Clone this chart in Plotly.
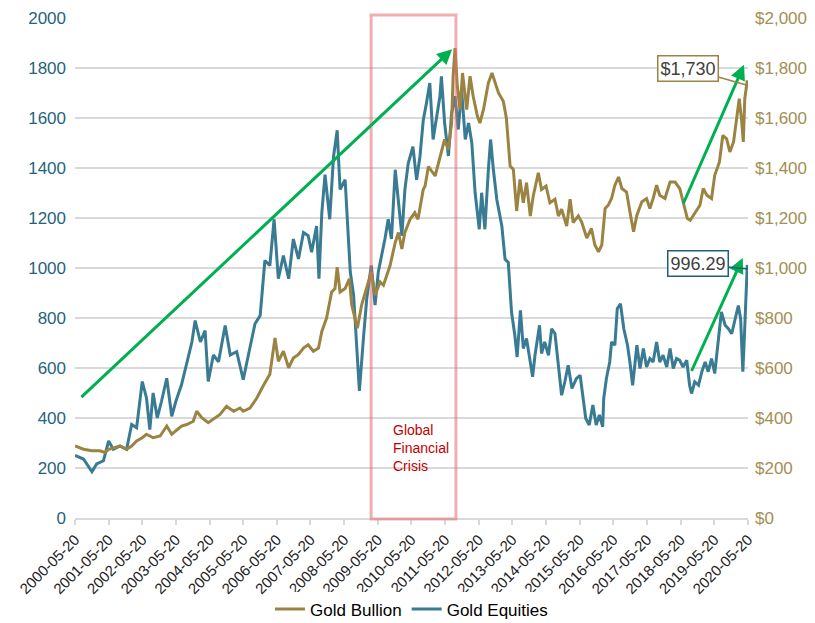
import plotly.graph_objects as go

# Gold Equities (left axis)
eq_dates = [
    "2000-05-20", "2000-08-20", "2000-11-20", "2001-01-10", "2001-03-25", "2001-05-20", "2001-07-10",
    "2001-09-20", "2001-12-01", "2002-01-25", "2002-03-20", "2002-05-20", "2002-07-05", "2002-08-10",
    "2002-09-15", "2002-10-30", "2002-12-15", "2003-02-10", "2003-04-05", "2003-05-20", "2003-07-20",
    "2003-09-15", "2003-11-10", "2003-12-15", "2004-02-10", "2004-04-01", "2004-05-05", "2004-06-30",
    "2004-08-25", "2004-11-05", "2004-12-30", "2005-03-10", "2005-05-20", "2005-07-15", "2005-09-25",
    "2005-11-20", "2006-01-10", "2006-03-05", "2006-04-20", "2006-06-05", "2006-07-30", "2006-09-25",
    "2006-11-15", "2007-01-10", "2007-03-05", "2007-04-25", "2007-06-01", "2007-07-25", "2007-08-20",
    "2007-09-20", "2007-10-25", "2007-12-15", "2008-01-25", "2008-03-05", "2008-04-05", "2008-05-30",
    "2008-06-25", "2008-07-25", "2008-08-30", "2008-10-05", "2008-11-01", "2008-12-15", "2009-01-20",
    "2009-03-10", "2009-04-20", "2009-05-25", "2009-07-01", "2009-08-05", "2009-09-10", "2009-10-15",
    "2009-11-25", "2009-12-30", "2010-02-05", "2010-03-10", "2010-04-15", "2010-06-05", "2010-07-15",
    "2010-08-20", "2010-09-25", "2010-10-30", "2010-12-05", "2011-01-10", "2011-02-20", "2011-03-25",
    "2011-04-10", "2011-05-15", "2011-06-25", "2011-07-30", "2011-09-05", "2011-10-10", "2011-11-15",
    "2011-12-25", "2012-01-30", "2012-03-05", "2012-04-10", "2012-05-25", "2012-06-20", "2012-07-25",
    "2012-09-01", "2012-09-25", "2012-10-25", "2012-12-01", "2013-01-25", "2013-03-01", "2013-04-05",
    "2013-05-10", "2013-06-15", "2013-07-10", "2013-08-15", "2013-09-15", "2013-10-20", "2013-11-30",
    "2013-12-25", "2014-01-20", "2014-03-10", "2014-04-01", "2014-05-05", "2014-06-15", "2014-07-20",
    "2014-08-25", "2014-09-30", "2014-11-05", "2014-12-10", "2015-01-15", "2015-02-25", "2015-04-15",
    "2015-05-25", "2015-06-20", "2015-07-25", "2015-09-01", "2015-10-10", "2015-11-15", "2015-12-20",
    "2016-01-25", "2016-02-05", "2016-03-05", "2016-04-10", "2016-04-30", "2016-06-05", "2016-07-01",
    "2016-08-05", "2016-09-10", "2016-10-20", "2016-11-15", "2016-12-15", "2017-01-30", "2017-03-05",
    "2017-04-10", "2017-05-15", "2017-06-20", "2017-07-25", "2017-09-01", "2017-10-05", "2017-11-10",
    "2017-12-20", "2018-01-25", "2018-03-01", "2018-04-05", "2018-05-10", "2018-06-15", "2018-07-25",
    "2018-08-25", "2018-09-15", "2018-10-20", "2018-11-30", "2019-01-05", "2019-02-10", "2019-03-15",
    "2019-04-20", "2019-05-25", "2019-07-01", "2019-08-05", "2019-09-15", "2019-10-20", "2019-11-25",
    "2019-12-30", "2020-02-05", "2020-03-01", "2020-03-25", "2020-04-10", "2020-04-30", "2020-05-12",
    "2020-05-20",
]
eq_values = [
    250, 236, 185, 216, 229, 308, 275,
    288, 275, 374, 361, 546, 480, 354,
    500, 400, 467, 559, 407, 467, 533,
    625, 704, 790, 704, 750, 546, 652,
    625, 770, 652, 665, 553, 652, 777,
    810, 1030, 1010, 1195, 957, 1050, 957,
    1116, 1036, 1142, 1129, 1063, 1168, 957,
    1221, 1373, 1195, 1445, 1551, 1314, 1353,
    1182, 984, 891, 693, 508, 720, 878,
    1010, 852, 984, 1050, 1116, 1195, 1116,
    1393, 1274, 1129, 1314, 1419, 1485, 1353,
    1445, 1591, 1660, 1740, 1514, 1620, 1687,
    1767, 1580, 1448, 1620, 1687, 1554, 1714,
    1514, 1580, 1501, 1301, 1155, 1301, 1155,
    1394, 1514, 1394, 1275, 1168, 1035, 1022,
    824, 731, 644, 831, 678, 718, 611,
    565, 651, 771, 658, 704, 651, 757,
    737, 624, 491, 545, 611, 518, 558,
    571, 505, 398, 372, 452, 372, 412,
    365, 478, 558, 624, 704, 691, 837,
    857, 757, 691, 624, 531, 691, 598,
    678, 604, 638, 624, 704, 624, 651,
    604, 678, 598, 638, 631, 604, 631,
    531, 498, 545, 531, 585, 624, 585,
    638, 578, 718, 824, 771, 757, 737,
    797, 850, 797, 585, 718, 930, 1012,
    996.29,
]

# Gold Bullion (right axis)
gb_dates = [
    "2000-05-20", "2000-08-20", "2000-11-20", "2001-02-15", "2001-04-10", "2001-05-20", "2001-07-30",
    "2001-09-20", "2001-12-01", "2002-01-25", "2002-03-20", "2002-05-20", "2002-07-05", "2002-09-15",
    "2002-11-30", "2003-02-10", "2003-04-05", "2003-05-20", "2003-07-20", "2003-09-15", "2003-11-25",
    "2004-01-01", "2004-02-25", "2004-05-05", "2004-06-30", "2004-09-10", "2004-11-20", "2005-02-05",
    "2005-04-15", "2005-05-20", "2005-08-01", "2005-10-15", "2005-12-25", "2006-03-05", "2006-04-30",
    "2006-06-05", "2006-07-30", "2006-09-25", "2006-11-15", "2007-01-10", "2007-03-05", "2007-04-25",
    "2007-06-20", "2007-08-15", "2007-09-20", "2007-11-10", "2008-01-05", "2008-02-10", "2008-03-05",
    "2008-04-05", "2008-05-30", "2008-07-15", "2008-08-10", "2008-09-15", "2008-10-10", "2008-11-25",
    "2009-01-20", "2009-03-10", "2009-04-20", "2009-06-15", "2009-07-20", "2009-08-25", "2009-09-30",
    "2009-11-25", "2009-12-30", "2010-02-05", "2010-03-10", "2010-05-05", "2010-06-25", "2010-07-30",
    "2010-09-25", "2010-10-15", "2010-11-20", "2011-02-01", "2011-03-25", "2011-05-15", "2011-06-25",
    "2011-07-30", "2011-08-15", "2011-09-05", "2011-09-30", "2011-10-30", "2011-11-25", "2012-01-10",
    "2012-02-15", "2012-03-20", "2012-05-05", "2012-06-01", "2012-07-10", "2012-09-01", "2012-10-10",
    "2012-11-15", "2012-12-20", "2013-02-10", "2013-03-15", "2013-04-25", "2013-05-30", "2013-07-05",
    "2013-08-10", "2013-09-15", "2013-10-20", "2013-11-30", "2014-01-01", "2014-02-25", "2014-04-01",
    "2014-05-20", "2014-07-01", "2014-08-25", "2014-10-01", "2014-11-05", "2014-12-30", "2015-02-05",
    "2015-03-10", "2015-05-05", "2015-06-10", "2015-08-05", "2015-09-25", "2015-11-01", "2015-12-10",
    "2016-01-15", "2016-02-20", "2016-03-25", "2016-04-30", "2016-06-05", "2016-07-15", "2016-08-20",
    "2016-10-10", "2016-11-15", "2016-12-25", "2017-01-30", "2017-03-25", "2017-05-15", "2017-06-20",
    "2017-07-25", "2017-09-01", "2017-10-05", "2017-12-01", "2018-01-25", "2018-03-20", "2018-05-10",
    "2018-06-15", "2018-08-01", "2018-09-01", "2018-10-20", "2018-12-15", "2019-01-20", "2019-03-01",
    "2019-04-20", "2019-05-25", "2019-07-15", "2019-08-20", "2019-10-01", "2019-11-05", "2019-12-15",
    "2020-01-20", "2020-02-15", "2020-03-10", "2020-03-30", "2020-04-15", "2020-04-30", "2020-05-12",
    "2020-05-20",
]
gb_values = [
    288, 275, 269, 269, 262, 275, 282,
    288, 275, 288, 308, 321, 335, 321,
    328, 368, 335, 348, 368, 374, 387,
    427, 401, 381, 394, 414, 447, 427,
    440, 427, 440, 480, 530, 575, 720,
    627, 667, 601, 640, 654, 680, 693,
    667, 680, 746, 799, 904, 918, 1003,
    904, 918, 957, 852, 799, 759, 852,
    918, 984, 891, 944, 931, 970, 1010,
    1102, 1142, 1076, 1142, 1195, 1221, 1195,
    1314, 1328, 1406, 1368, 1448, 1514, 1474,
    1580, 1767, 1880, 1727, 1634, 1780, 1634,
    1767, 1687, 1607, 1580, 1634, 1740, 1780,
    1740, 1700, 1667, 1600, 1408, 1394, 1228,
    1354, 1261, 1341, 1208, 1288, 1381, 1314,
    1328, 1261, 1275, 1208, 1235, 1168, 1275,
    1182, 1208, 1185, 1120, 1158, 1092, 1065,
    1092, 1238, 1251, 1278, 1331, 1364, 1318,
    1304, 1225, 1145, 1211, 1265, 1278, 1238,
    1278, 1331, 1291, 1278, 1344, 1344, 1318,
    1265, 1198, 1191, 1218, 1251, 1318, 1291,
    1278, 1371, 1424, 1530, 1517, 1464, 1504,
    1597, 1677, 1597, 1504, 1677, 1717, 1750,
    1730,
]

tick_dates = ["%d-05-20" % y for y in range(2000, 2021)]
tick_labels = tick_dates

TEAL = "#387B93"
GOLD = "#9B8442"
GREEN = "#00B050"
FONT = "Liberation Sans, Arial, sans-serif"

fig = go.Figure()
fig.add_trace(go.Scatter(x=eq_dates, y=eq_values, name="Gold Equities", mode="lines",
                         line=dict(color=TEAL, width=3), yaxis="y"))
fig.add_trace(go.Scatter(x=gb_dates, y=gb_values, name="Gold Bullion", mode="lines",
                         line=dict(color=GOLD, width=3), yaxis="y2"))

# global financial crisis box
fig.add_shape(type="rect", xref="x", yref="paper", x0="2009-03-08", x1="2011-09-15", y0=-0.002, y1=1.006,
              line=dict(color="rgba(225,110,110,0.55)", width=3), fillcolor="rgba(0,0,0,0)", layer="above")
fig.add_annotation(x="2009-10-10", y=392, xref="x", yref="y", text="Global<br>Financial<br>Crisis",
                   showarrow=False, xanchor="left", yanchor="top", align="left",
                   font=dict(family=FONT, size=14, color="#C00000"))

# green trend arrows
arrows = [
    ("2000-07-12", 478, "2011-08-05", 1875),
    ("2018-06-10", 1251, "2020-04-07", 1813),
    ("2018-09-08", 582, "2020-03-23", 1040),
]
for x0, y0, x1, y1 in arrows:
    fig.add_annotation(x=x1, y=y1, ax=x0, ay=y0, xref="x", yref="y", axref="x", ayref="y",
                       text="", showarrow=True, arrowhead=2, arrowsize=1, arrowwidth=3,
                       arrowcolor=GREEN)

# callouts
fig.add_annotation(x="2020-05-20", y=1730, xref="x", yref="y", ax=-60, ay=-17,
                   text="$1,730", showarrow=True, arrowhead=0, arrowwidth=1.5, arrowcolor=GOLD,
                   bordercolor=GOLD, borderwidth=1.5, borderpad=2, bgcolor="white",
                   font=dict(family=FONT, size=18, color="#404040"))
fig.add_annotation(x="2020-05-20", y=996.29, xref="x", yref="y", ax=-50, ay=-5,
                   text="996.29", showarrow=True, arrowhead=0, arrowwidth=1.5, arrowcolor="#1F5F7A",
                   bordercolor="#1F5F7A", borderwidth=1.5, borderpad=2, bgcolor="white",
                   font=dict(family=FONT, size=18, color="#404040"))

# page body has an 8px margin, so the figure is sized to sit inside the window
fig.update_layout(
    width=807, height=630,
    margin=dict(l=67, r=67, t=10, b=118),
    plot_bgcolor="white", paper_bgcolor="white",
    font=dict(family=FONT),
    showlegend=True,
    legend=dict(orientation="h", x=0.5, xanchor="center", y=-0.183, yanchor="middle",
                traceorder="reversed", font=dict(size=17, color="#000000"), itemwidth=30),
    xaxis=dict(type="date", range=["2000-05-20", "2020-05-20"], tickmode="array",
               tickvals=tick_dates, ticktext=tick_labels, tickangle=-45,
               tickfont=dict(size=15, color="#222222"), showgrid=False,
               showline=True, linecolor="#D9D9D9", linewidth=2,
               ticks="outside", ticklen=5, tickcolor="#D9D9D9", tickwidth=2, automargin=False),
    yaxis=dict(range=[0, 2000], dtick=200, tickformat="d", showgrid=True, gridcolor="#D9D9D9",
               gridwidth=1.5, zeroline=False, tickfont=dict(size=17, color="#1F6380"),
               ticklabelstandoff=8, automargin=False),
    yaxis2=dict(range=[0, 2000], dtick=200, overlaying="y", side="right", showgrid=False,
                zeroline=False, tickprefix="$", tickformat=",d",
                tickfont=dict(size=17, color="#A38F52"), ticklabelstandoff=6, automargin=False),
)

fig.write_html("out.html")
